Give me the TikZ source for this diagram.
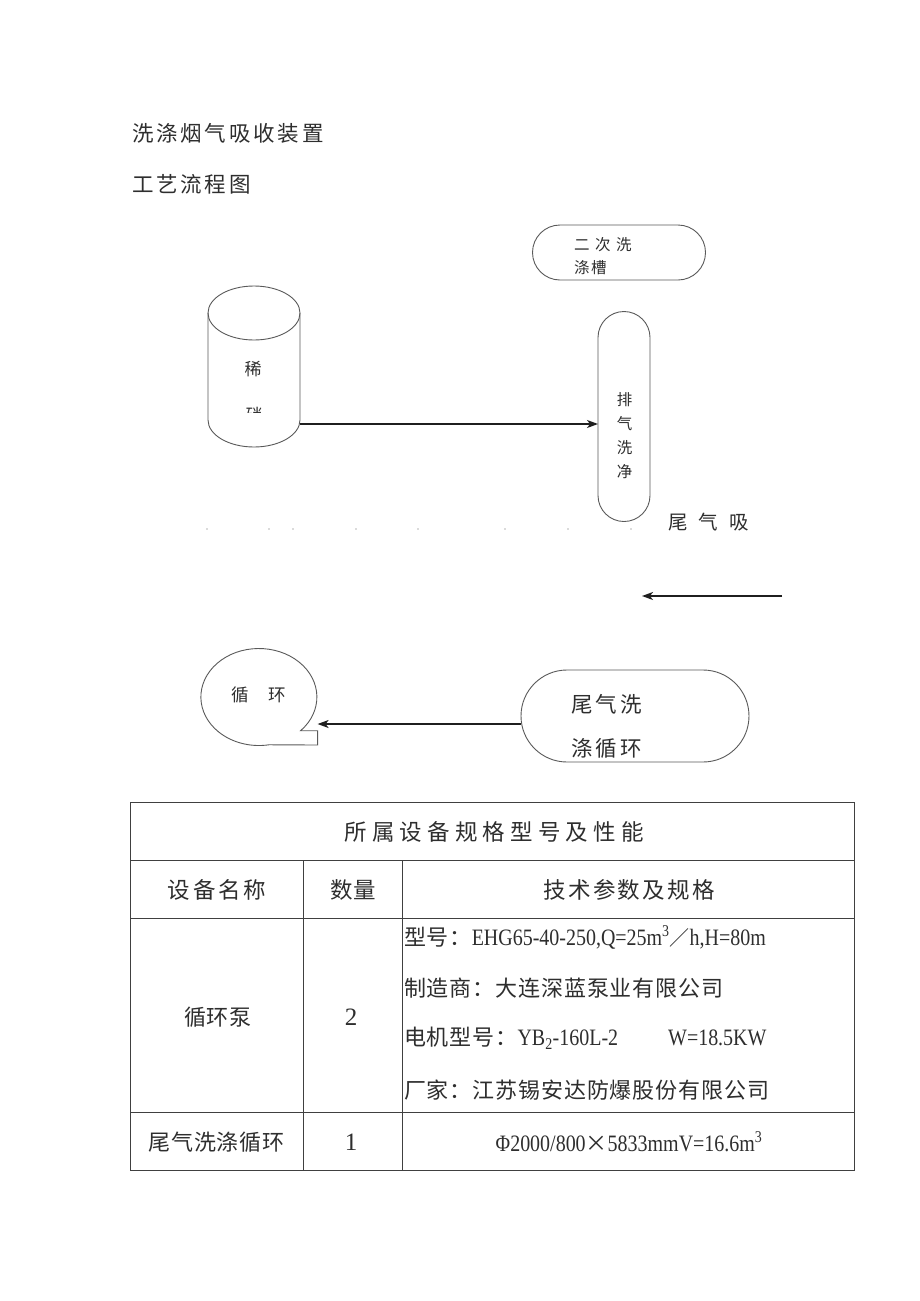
\documentclass[tikz,border=0pt]{standalone}
\usepackage{fontspec}
\setmainfont{Liberation Serif}
\newfontfamily\cjk{Noto Sans CJK SC}
\newfontfamily\lat{Liberation Serif}
\usetikzlibrary{arrows.meta}
\definecolor{ink}{HTML}{2E2E2E}
\definecolor{edge}{HTML}{5A5A5A}
\newcommand\fsz[1]{\fontsize{#1pt}{#1pt}\selectfont}
\newcommand\fszb[2]{\fontsize{#1pt}{#2pt}\selectfont}
\newcommand\lsp[1]{\addfontfeature{LetterSpace=#1}}
\newcommand\narrowtxt[1]{\scalebox{0.85}[1]{#1}}
\tikzset{
  txt/.style={inner sep=0pt, outer sep=0pt, text=ink},
  shapeline/.style={draw=edge, line width=0.9pt},
  boxnode/.style={shapeline, inner sep=0pt, outer sep=0pt},
  arr/.style={draw=black!88, line width=1.4pt, -{Stealth[length=11pt,width=8pt,inset=3pt]}},
  gridline/.style={draw=black!75, line width=1pt},
}
\begin{document}
\begin{tikzpicture}[x=1pt,y=-1pt]
\fill[white] (0,0) rectangle (920,1301);
\useasboundingbox (0,0) rectangle (920,1301);

% titles
\node[txt,anchor=west,font=\cjk\fsz{21.5}\lsp{13}] (title1) at (132,133) {洗涤烟气吸收装置};
\node[txt,anchor=west,font=\cjk\fsz{21.5}\lsp{13}] (title2) at (132,184) {工艺流程图};

% secondary washing tank
\node[boxnode, rounded corners=27.5pt, minimum width=173pt, minimum height=55pt] (tank2) at (619,252.5) {};
\node[txt,anchor=west,font=\cjk\fsz{15.5}\lsp{36}] (tank2a) at (574,245) {二次洗};
\node[txt,anchor=west,font=\cjk\fsz{15.5}\lsp{10}] (tank2b) at (574,268) {涤槽};

% cylinder tank
\node[inner sep=0pt, minimum width=92pt, minimum height=161pt] (tank) at (254,366.5) {};
\draw[shapeline] (208,313) -- (208,420) arc[start angle=180,end angle=0,x radius=46,y radius=27] -- (300,313);
\draw[shapeline] (254,313) ellipse [x radius=46, y radius=27];
\node[txt,font=\cjk\fsz{17}] (tanklbl) at (253,369) {稀};
\begin{scope}
  \clip (238,404) rectangle (270,412.5);
  \node[txt,font=\cjk\fsz{17}] (tanklbl2) at (254,415) {硝};
\end{scope}
\coordinate (tankout) at (300,424);

% vertical scrubber
\node[boxnode, rounded corners=26pt, minimum width=52pt, minimum height=210pt] (wash) at (624,416.5) {};
\node[txt,font=\cjk\fszb{15.5}{24},align=center] (washlbl) at (624.6,436) {排\\气\\洗\\净};
\draw[arr] (tankout) -- (tankout -| wash.west);

% tail gas label and dots
\node[txt,anchor=west,font=\cjk\fsz{19.5}\lsp{58}] (tailgas) at (668,522) {尾气吸};
\foreach \x in {207,269,293,356,418,505,568,631}
  \fill[black!28] (\x,529) circle[radius=0.9];

% incoming arrow
\coordinate (inR) at (782,596);
\coordinate (inL) at (642,596);
\draw[arr] (inR) -- (inL);

% callout
\draw[shapeline] (317.6,745) -- (317.6,730.7) -- (300.6,730.7)
  arc[start angle=44, end angle=-280, x radius=58, y radius=48.5] -- cycle;
\node[txt,font=\cjk\fsz{17.5}] (loop) at (259,695) {循\hspace{20pt}环};
\coordinate (loopin) at (317.6,724);

% tail gas washing circulation
\node[boxnode, rounded corners=46pt, minimum width=228pt, minimum height=92pt] (scrub) at (635,716) {};
\node[txt,anchor=west,font=\cjk\fsz{21.5}\lsp{15}] (scrubA) at (571,704) {尾气洗};
\node[txt,anchor=west,font=\cjk\fsz{21.5}\lsp{15}] (scrubB) at (571,748) {涤循环};
\draw[arr] (scrub.west |- loopin) -- (loopin);

% table
\draw[gridline] (130,802) rectangle (854,1170);
\draw[gridline] (130,860) -- (854,860);
\draw[gridline] (130,918) -- (854,918);
\draw[gridline] (130,1112) -- (854,1112);
\draw[gridline] (303,860) -- (303,1170);
\draw[gridline] (402,860) -- (402,1170);

\node[txt,font=\cjk\fsz{22.5}\lsp{23}] (thead) at (494,832) {所属设备规格型号及性能};
\node[txt,font=\cjk\fsz{22.5}\lsp{12}] (h1) at (217,890) {设备名称};
\node[txt,font=\cjk\fsz{22.5}\lsp{3}] (h2) at (353,890) {数量};
\node[txt,font=\cjk\fsz{22.5}\lsp{10}] (h3) at (629,890) {技术参数及规格};

\node[txt,font=\cjk\fsz{22}\lsp{3}] (r1a) at (218,1017) {循环泵};
\node[txt,font=\lat\fsz{25}] (r1b) at (351,1017) {2};
\node[txt,anchor=west,font=\lat\fsz{23.5}] (r1c1) at (404,937)
  {{\cjk\fsz{22}\lsp{4}型号：}\narrowtxt{EHG65-40-250,Q=25m\textsuperscript{3}}{\cjk\fsz{20}／}\narrowtxt{h,H=80m}};
\node[txt,anchor=west,font=\cjk\fsz{22}\lsp{4}] (r1c2) at (404,988) {制造商：大连深蓝泵业有限公司};
\node[txt,anchor=west,font=\lat\fsz{23.5}] (r1c3) at (404,1038)
  {{\cjk\fsz{22}\lsp{4}电机型号：}\narrowtxt{YB\textsubscript{2}-160L-2}\hspace*{50pt}\narrowtxt{W=18.5KW}};
\node[txt,anchor=west,font=\cjk\fsz{22}\lsp{4}] (r1c4) at (404,1090) {厂家：江苏锡安达防爆股份有限公司};

\node[txt,font=\cjk\fsz{22}\lsp{4}] (r2a) at (216.5,1142) {尾气洗涤循环};
\node[txt,font=\lat\fsz{25}] (r2b) at (351,1142) {1};
\node[txt,font=\lat\fsz{23.5}] (r2c) at (629,1142) {\narrowtxt{Φ2000/800}{\cjk\fsz{22}×}\narrowtxt{5833mmV=16.6m\textsuperscript{3}}};
\end{tikzpicture}
\end{document}
